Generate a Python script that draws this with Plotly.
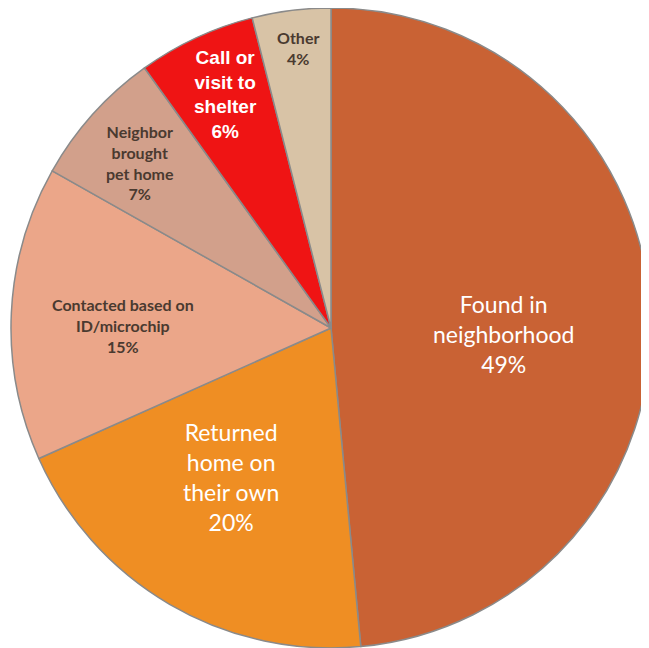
import math
import plotly.graph_objects as go

labels = ["Found in<br>neighborhood", "Returned<br>home on<br>their own", "Contacted based on<br>ID/microchip",
          "Neighbor<br>brought<br>pet home", "Call or<br>visit to<br>shelter", "Other"]
values = [49, 20, 15, 7, 6, 4]

# styles
colors = ["#C96234", "#EF8E23", "#EBA689", "#D2A08B", "#EF1414", "#D8C3A6"]
font_colors = ["white", "white", "#4A3A30", "#4A3A30", "white", "#4A3A30"]
font_sizes = [23, 23, 16, 16, 19, 16]
font_families = ["Lato", "Lato", "Lato", "Lato", "Liberation Sans", "Lato"]
bold = [False, False, True, True, True, True]
label_radius = [0.54, 0.56, 0.65, 0.79, 0.80, 0.88]   # fraction of pie radius
label_turn = [4.5, 3.5, -2.0, -1.0, 0.5, 0.5]         # degrees off slice middle

W, H = 649, 648
dom_x = [3 / W, 643 / W]
dom_y = [8 / H, 1.0]

fig = go.Figure(go.Pie(
    labels=[l.replace("<br>", " ") for l in labels],
    values=values,
    textinfo="none",
    sort=False,
    direction="clockwise",
    rotation=0,
    marker=dict(colors=colors, line=dict(color="#8A8A8A", width=1.5)),
    domain=dict(x=dom_x, y=dom_y),
    showlegend=False,
))

# label placement from slice mid-angles
cx = (dom_x[0] + dom_x[1]) / 2 * W
cy = (1 - (dom_y[0] + dom_y[1]) / 2) * H
r = min((dom_x[1] - dom_x[0]) * W, (dom_y[1] - dom_y[0]) * H) / 2
total = sum(values)
cum = 0
for lab, v, fc, fs, ff, b, rf, turn in zip(labels, values, font_colors, font_sizes,
                                           font_families, bold, label_radius, label_turn):
    mid = (cum + v / 2) / total * 2 * math.pi + math.radians(turn)
    cum += v
    px = cx + rf * r * math.sin(mid)
    py = cy - rf * r * math.cos(mid)
    t = f"{lab}<br>{v}%"
    if b:
        t = f"<b>{t}</b>"
    fig.add_annotation(x=px / W, y=1 - py / H, xref="paper", yref="paper",
                       text=t, showarrow=False, xanchor="center", yanchor="middle",
                       font=dict(color=fc, size=fs, family=ff))

fig.update_layout(width=W, height=H, margin=dict(l=0, r=0, t=0, b=0),
                  paper_bgcolor="white")
fig.write_html("out.html")
